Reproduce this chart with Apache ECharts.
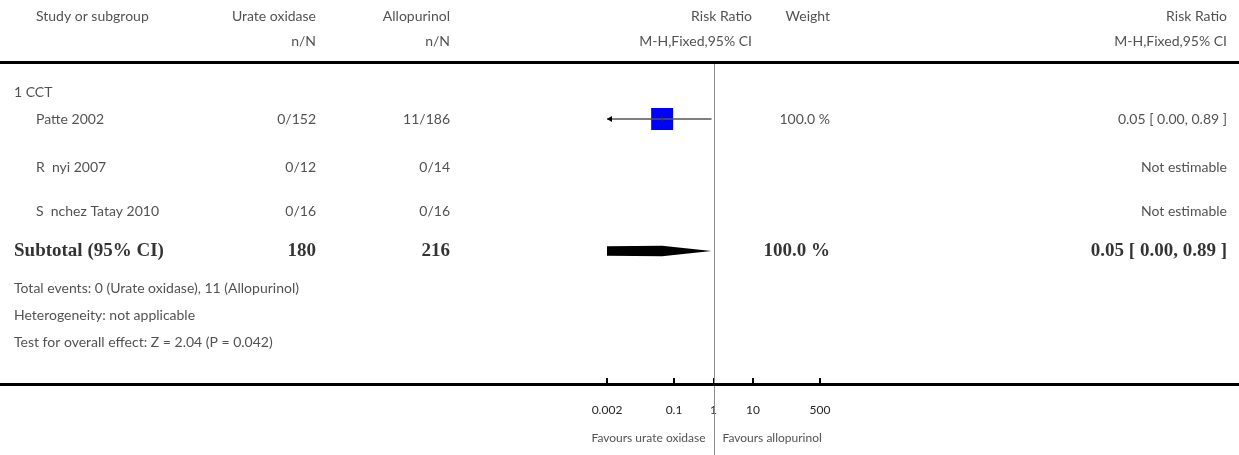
<!DOCTYPE html>
<html>
<head>
<meta charset="utf-8">
<script src="https://cdn.jsdelivr.net/npm/echarts@6/dist/echarts.min.js"></script>
<style>
html,body{margin:0;padding:0;background:#fff;}
#main{width:1239px;height:455px;}
</style>
</head>
<body>
<div id="main"></div>
<script>
// ---------------- DATA ----------------
const studies = ['Patte 2002', 'R  nyi 2007', 'S  nchez Tatay 2010'];
const eventsUrate = ['0/152', '0/12', '0/16'];
const eventsAllo = ['11/186', '0/14', '0/16'];
const rr = [0.05, null, null];
const rrLow = [0.0019, null, null];   // displayed as 0.00, beyond left edge of scale (arrow)
const rrHigh = [0.89, null, null];
const weights = ['100.0 %', '', ''];
const rrText = ['0.05 [ 0.00, 0.89 ]', 'Not estimable', 'Not estimable'];
const subtotalLabel = 'Subtotal (95% CI)';
const subtotalN = ['180', '216'];
const subtotalWeight = '100.0 %';
const subtotalText = '0.05 [ 0.00, 0.89 ]';
const subtotalRR = [0.0001, 0.05, 0.89];   // low (off scale), estimate, high
const footnotes = ['Total events: 0 (Urate oxidase), 11 (Allopurinol)', 'Heterogeneity: not applicable', 'Test for overall effect: Z = 2.04 (P = 0.042)'];
const tickValues = [0.002, 0.1, 1, 10, 500];
const tickLabels = ['0.002', '0.1', '1', '10', '500'];
const favours = ['Favours urate oxidase', 'Favours allopurinol'];
const groupLabel = '1 CCT';
const headers1 = ['Study or subgroup', 'Urate oxidase', 'Allopurinol', 'Risk Ratio', 'Weight', 'Risk Ratio'];
const headers2 = ['', 'n/N', 'n/N', 'M-H,Fixed,95% CI', '', 'M-H,Fixed,95% CI'];

// ---------------- LAYOUT ----------------
const W = 1239, H = 455;
const AXIS_Y = 384;          // forest axis / bottom rule (px)
const HEAD_RULE_Y = 62;
const PLOT_L = 607, PLOT_R = 820;
const COL = { study: 36, indent: 14, urate: 316, allo: 450, rrHead: 752, weight: 830, rrText: 1227 };
const HEAD_X = [COL.study, COL.urate, COL.allo, COL.rrHead, COL.weight, COL.rrText];
const ROW = { h1: 16, h2: 41, group: 92, studies: [119, 167, 211], subtotal: 251, foot: [288, 315, 342], fav: 438 };
const FONT = 'Lato, "Open Sans", sans-serif';
const SERIF = '"Liberation Serif", "DejaVu Serif", serif';
const TXT = '#262626';

const lg = v => Math.log10(v);
const XMIN = lg(tickValues[0]), XMAX = lg(tickValues[tickValues.length - 1]);

// text items in pixel-space grid (grid 1)
const texts = [];
function t(x, y, s, align, bold) { texts.push({ value: [x, y], s: s, align: align, bold: !!bold }); }
headers1.forEach((h, i) => { if (h) t(HEAD_X[i], ROW.h1, h, i === 0 ? 'left' : 'right'); });
headers2.forEach((h, i) => { if (h) t(HEAD_X[i], ROW.h2, h, i === 0 ? 'left' : 'right'); });
t(COL.indent, ROW.group, groupLabel, 'left');
studies.forEach((s, i) => {
  const y = ROW.studies[i];
  t(COL.study, y, s, 'left');
  t(COL.urate, y, eventsUrate[i], 'right');
  t(COL.allo, y, eventsAllo[i], 'right');
  if (weights[i]) t(COL.weight, y, weights[i], 'right');
  t(COL.rrText, y, rrText[i], 'right');
});
t(COL.indent, ROW.subtotal, subtotalLabel, 'left', true);
t(COL.urate, ROW.subtotal, subtotalN[0], 'right', true);
t(COL.allo, ROW.subtotal, subtotalN[1], 'right', true);
t(COL.weight, ROW.subtotal, subtotalWeight, 'right', true);
t(COL.rrText, ROW.subtotal, subtotalText, 'right', true);
footnotes.forEach((f, i) => t(COL.indent, ROW.foot[i], f, 'left'));

const chart = echarts.init(document.getElementById('main'), null, { renderer: 'canvas' });

const ciData = [];
const squareData = [];
rr.forEach((v, i) => {
  if (v == null) return;
  squareData.push([lg(v), ROW.studies[i]]);
  ciData.push([lg(rrLow[i]), lg(v), lg(rrHigh[i]), ROW.studies[i]]);
});

const option = {
  animation: false,
  backgroundColor: '#fff',
  grid: [
    { left: PLOT_L, width: PLOT_R - PLOT_L, top: HEAD_RULE_Y + 1, bottom: H - AXIS_Y, outerBoundsMode: 'none', containLabel: false },
    { left: 0, right: 0, top: 0, bottom: 0, outerBoundsMode: 'none', containLabel: false }
  ],
  xAxis: [
    {
      gridIndex: 0, type: 'value', min: XMIN, max: XMAX, position: 'bottom',
      axisLine: { show: false, onZero: false },
      splitLine: { show: false },
      axisTick: { show: true, inside: true, length: 6, customValues: tickValues.map(lg), lineStyle: { color: '#000', width: 2 } },
      axisLabel: {
        show: true, customValues: tickValues.map(lg), margin: 20,
        fontFamily: FONT, fontSize: 12, color: TXT,
        formatter: v => {
          let best = 0, d = Infinity;
          tickValues.forEach((tv, i) => { const dd = Math.abs(lg(tv) - v); if (dd < d) { d = dd; best = i; } });
          return tickLabels[best];
        }
      }
    },
    { gridIndex: 1, type: 'value', min: 0, max: W, show: false }
  ],
  yAxis: [
    {
      gridIndex: 0, type: 'value', inverse: true, min: HEAD_RULE_Y + 1, max: AXIS_Y,
      axisLine: { show: false }, axisTick: { show: false }, axisLabel: { show: false }, splitLine: { show: false }
    },
    { gridIndex: 1, type: 'value', inverse: true, min: 0, max: H, show: false }
  ],
  series: [
    // horizontal rules (full width)
    {
      type: 'line', xAxisIndex: 1, yAxisIndex: 1, data: [], silent: true,
      markLine: {
        silent: true, symbol: ['none', 'none'], label: { show: false },
        lineStyle: { color: '#000', width: 3, type: 'solid' },
        data: [
          [{ coord: [0, HEAD_RULE_Y] }, { coord: [W, HEAD_RULE_Y] }],
          [{ coord: [0, AXIS_Y] }, { coord: [W, AXIS_Y] }]
        ]
      }
    },
    // line of no effect (RR = 1), from header rule down to the bottom of the picture
    {
      type: 'custom', xAxisIndex: 0, yAxisIndex: 0, z: 1, silent: true, clip: false,
      data: [[0]],
      renderItem: (params, api) => {
        const top = api.coord([api.value(0), HEAD_RULE_Y + 1]);
        const x = Math.round(top[0]) + 0.5;
        return { type: 'line', shape: { x1: x, y1: top[1], x2: x, y2: api.getHeight() }, style: { stroke: '#8c8c8c', lineWidth: 1 } };
      }
    },
    // table text
    {
      type: 'scatter', xAxisIndex: 1, yAxisIndex: 1, symbolSize: 0, silent: true, clip: false,
      data: texts.map(d => ({
        value: d.value,
        label: {
          show: true, position: 'inside', formatter: d.s, align: d.align, verticalAlign: 'middle',
          fontFamily: d.bold ? SERIF : FONT, fontWeight: d.bold ? 'bold' : 'normal',
          fontSize: d.bold ? 19 : 14, color: d.bold ? '#000' : TXT
        }
      }))
    },
    // favours labels, either side of the line of no effect
    {
      type: 'scatter', xAxisIndex: 0, yAxisIndex: 0, symbolSize: 0, silent: true, clip: false,
      data: [
        { value: [0, ROW.fav], label: { show: true, position: 'inside', formatter: favours[0], align: 'right', padding: [0, 8, 0, 0], verticalAlign: 'middle', fontFamily: FONT, fontSize: 12, color: TXT } },
        { value: [0, ROW.fav], label: { show: true, position: 'inside', formatter: favours[1], align: 'left', padding: [0, 0, 0, 9], verticalAlign: 'middle', fontFamily: FONT, fontSize: 12, color: TXT } }
      ]
    },
    // study squares
    {
      type: 'scatter', xAxisIndex: 0, yAxisIndex: 0, symbol: 'rect', symbolSize: 22, z: 2,
      itemStyle: { color: '#0000ff', opacity: 1 }, data: squareData, silent: true
    },
    // CI lines with arrow when clipped
    {
      type: 'custom', xAxisIndex: 0, yAxisIndex: 0, z: 3, silent: true,
      data: ciData,
      renderItem: (params, api) => {
        const y = api.value(3);
        const lo = Math.max(api.value(0), XMIN), hi = Math.min(api.value(2), XMAX);
        const p1 = api.coord([lo, y]);
        const pm = api.coord([api.value(1), y]);
        const p2 = api.coord([hi, y]);
        const children = [
          { type: 'line', shape: { x1: p1[0], y1: p1[1], x2: p2[0], y2: p2[1] }, style: { stroke: '#555', lineWidth: 1.5 } },
          { type: 'line', shape: { x1: pm[0], y1: pm[1] - 2.5, x2: pm[0], y2: pm[1] + 2.5 }, style: { stroke: '#333', lineWidth: 1 } }
        ];
        if (api.value(0) < XMIN) {
          children.push({ type: 'polygon', shape: { points: [[p1[0], p1[1]], [p1[0] + 5, p1[1] - 3], [p1[0] + 5, p1[1] + 3]] }, style: { fill: '#000' } });
        }
        return { type: 'group', children: children };
      }
    },
    // pooled diamond
    {
      type: 'custom', xAxisIndex: 0, yAxisIndex: 0, z: 3, silent: true,
      data: [[lg(subtotalRR[0]), lg(subtotalRR[1]), lg(subtotalRR[2]), ROW.subtotal]],
      renderItem: (params, api) => {
        const y = api.value(3);
        const lo = Math.max(api.value(0), XMIN);
        const pl = api.coord([lo, y]), pm = api.coord([api.value(1), y]), ph = api.coord([api.value(2), y]);
        const h = 5.2;
        const pts = [[pl[0], pl[1] - h * 0.9], [pm[0], pm[1] - h], [ph[0], ph[1]], [pm[0], pm[1] + h], [pl[0], pl[1] + h * 0.9]];
        return { type: 'polygon', shape: { points: pts }, style: { fill: '#000' } };
      }
    }
  ]
};
chart.setOption(option);
</script>
</body>
</html>
